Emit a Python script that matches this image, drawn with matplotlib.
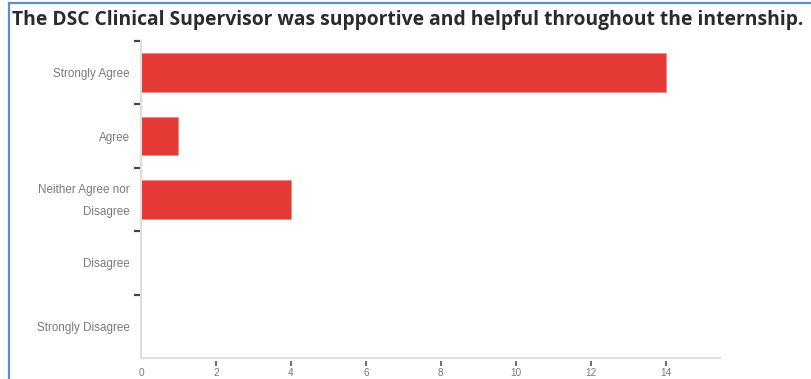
import matplotlib.pyplot as plt
import matplotlib.transforms as mtransforms
from matplotlib.lines import Line2D

categories = ['Strongly Agree', 'Agree', 'Neither Agree nor\nDisagree',
              'Disagree', 'Strongly Disagree']
counts = [14, 1, 4, 0, 0]
x_ticks = [0, 2, 4, 6, 8, 10, 12, 14]
title = 'The DSC Clinical Supervisor was supportive and helpful throughout the internship.'

W, H = 811, 379
fig = plt.figure(figsize=(W / 100, H / 100), dpi=100)
fig.patch.set_facecolor('white')

# frame lines around the question box
fig.add_artist(Line2D([9 / W, 9 / W], [0, 1 - 3 / H], color='#5b8fd0', lw=1.6,
                      transform=fig.transFigure))
fig.add_artist(Line2D([9 / W, 1], [1 - 3 / H, 1 - 3 / H], color='#5b8fd0', lw=1.6,
                      transform=fig.transFigure))

fig.text(12 / W, 1 - 20 / H, title, fontsize=13.9, fontweight='bold',
         color='#2b2b2b', family='Open Sans', va='center', ha='left')

ax = fig.add_axes([141 / W, 21 / H, (720 - 141) / W, (358 - 41) / H])
ypos = list(range(len(categories)))
ax.barh(ypos, counts, height=0.61, color='#e53935', edgecolor='#f08a87', linewidth=0.6)
ax.set_xlim(0, 15.45)
ax.set_ylim(len(categories) - 0.5, -0.5)

ax.set_yticks(ypos)
ax.set_yticklabels(categories, linespacing=2.2, fontsize=8.4, color='#7a7a7a',
                   family='Liberation Sans', va='center')
ax.tick_params(axis='y', length=0, pad=8)
# nudge category labels down slightly
nudge = mtransforms.ScaledTranslation(0, -1.5 / 100, fig.dpi_scale_trans)
for lbl in ax.get_yticklabels():
    lbl.set_transform(lbl.get_transform() + nudge)
# short dark markers between categories
ax.set_yticks([i - 0.5 for i in range(len(categories))], minor=True)
ax.tick_params(axis='y', which='minor', length=5, width=1.6, color='#444444', pad=0)

ax.set_xticks(x_ticks)
ax.set_xticklabels([str(v) for v in x_ticks], fontsize=7.2, color='#7a7a7a',
                   family='Liberation Sans')
ax.tick_params(axis='x', length=0, pad=7.5)
# x tick marks sit a little below the axis line
ax.vlines(x_ticks[1:], -0.010, -0.025, transform=ax.get_xaxis_transform(),
          colors='#555555', linewidth=1.2, clip_on=False)

for side in ('top', 'right'):
    ax.spines[side].set_visible(False)
for side in ('left', 'bottom'):
    ax.spines[side].set_color('#dddddd')
    ax.spines[side].set_linewidth(1.5)

fig.savefig('out.png', dpi=100, facecolor='white')
